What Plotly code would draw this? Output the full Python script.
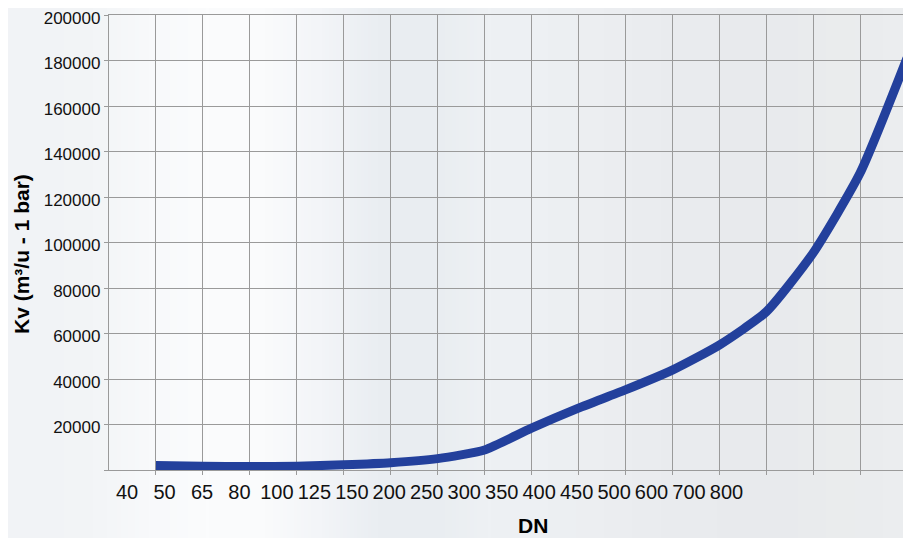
import base64, struct, zlib
import plotly.graph_objects as go

# ---- data ----
DN = ["40", "50", "65", "80", "100", "125", "150", "200", "250", "300",
      "350", "400", "450", "500", "600", "700", "800"]
KV = [2000, 1650, 1500, 1650, 2300, 3200, 5000, 8800, 18400, 27200,
      35200, 43900, 54900, 69500, 95400, 130500, 181000]
Y_TICKS = [0, 20000, 40000, 60000, 80000, 100000, 120000, 140000,
           160000, 180000, 200000]
Y_TICK_TEXT = [""] + [str(v) for v in Y_TICKS[1:]]

# ---- soft background gradient (styling only) ----
BG_COLS = ["#f1f3f6", "#f3f5f7", "#f8f9fb", "#fbfcfd", "#fafbfc", "#f3f5f8",
           "#eaeef2", "#e9edf1", "#eef1f4", "#edf0f3", "#eceef1", "#eaecef",
           "#e9ebee", "#e8eaed", "#eaeced", "#ebedef"]


def make_png(cols, nrows=4):
    w = len(cols)
    row = b"".join(bytes(int(c[i:i + 2], 16) for i in (1, 3, 5)) for c in cols)
    raw = b"".join(b"\x00" + row for _ in range(nrows))

    def chunk(t, d):
        return struct.pack(">I", len(d)) + t + d + struct.pack(">I", zlib.crc32(t + d) & 0xffffffff)
    png = b"\x89PNG\r\n\x1a\n" + chunk(b"IHDR", struct.pack(">IIBBBBB", w, nrows, 8, 2, 0, 0, 0)) \
        + chunk(b"IDAT", zlib.compress(raw)) + chunk(b"IEND", b"")
    return "data:image/png;base64," + base64.b64encode(png).decode()


OFF = 8  # default page body margin
W, H = 911 - OFF, 538 - OFF
ML, MR, MT, MB = 109 - OFF, 4, 15 - OFF, 68
PW, PH = W - ML - MR, H - MT - MB

GRID = "#9a9a9a"
LINE = "#23409c"

fig = go.Figure()
fig.add_trace(go.Scatter(
    x=DN, y=KV, mode="lines", line=dict(color=LINE, width=9, shape="spline", smoothing=0.55),
    hoverinfo="x+y", showlegend=False))
# label axis carrier (invisible)
fig.add_trace(go.Scatter(
    x=DN, y=KV, xaxis="x2", mode="lines", line=dict(width=0), opacity=0,
    hoverinfo="skip", showlegend=False))

fig.update_layout(
    width=W, height=H,
    margin=dict(l=ML, r=MR, t=MT, b=MB, autoexpand=False),
    paper_bgcolor="#eef1f4",
    plot_bgcolor="rgba(0,0,0,0)",
    images=[dict(source=make_png(BG_COLS), xref="paper", yref="paper",
                 x=-ML / PW, y=1 + MT / PH, sizex=W / PW, sizey=H / PH,
                 sizing="stretch", layer="below", xanchor="left", yanchor="top")],
    xaxis=dict(type="category", categoryorder="array", categoryarray=DN,
               range=[-1, 16], tickmode="array", tickvals=DN, automargin=False,
               showticklabels=False, showgrid=True, gridcolor=GRID, gridwidth=1.3,
               ticks="outside", ticklen=4, tickcolor=GRID, tickwidth=1.3,
               showline=True, linecolor=GRID, linewidth=1.3, mirror=True,
               zeroline=False),
    xaxis2=dict(type="category", categoryorder="array", categoryarray=DN,
                overlaying="x", anchor="y", side="bottom", automargin=False,
                range=[-0.483, 20.82], tickmode="array", tickvals=DN, ticktext=DN,
                tickangle=0, showgrid=False, ticks="", showline=False, zeroline=False,
                ticklabelstandoff=8, ticklabeloverflow="allow",
                tickfont=dict(family="Liberation Sans Narrow, Arial Narrow, Liberation Sans",
                              size=20, color="#111111")),
    yaxis=dict(range=[0, 200000], tickmode="array", tickvals=Y_TICKS, ticktext=Y_TICK_TEXT,
               automargin=False,
               showgrid=True, gridcolor=GRID, gridwidth=1.3,
               ticks="outside", ticklen=4, tickcolor=GRID, tickwidth=1.3,
               showline=True, linecolor=GRID, linewidth=1.3, mirror=True,
               zeroline=False, ticklabeloverflow="allow", ticklabelshift=3,
               tickfont=dict(family="Liberation Sans, Arial", size=17, color="#111111")),
    annotations=[
        dict(text="<b>Kv (m³/u - 1 bar)</b>", xref="paper", yref="paper",
             x=(21 - 109) / PW, y=(470 - 254) / PH, textangle=-90,
             xanchor="center", yanchor="middle", showarrow=False,
             font=dict(family="Liberation Sans, Arial", size=21, color="#000000")),
        dict(text="<b>DN</b>", xref="paper", yref="paper",
             x=(533 - 109) / PW, y=(470 - 525) / PH,
             xanchor="center", yanchor="middle", showarrow=False,
             font=dict(family="Liberation Sans, Arial", size=21, color="#000000")),
    ],
)

fig.write_html("out.html")
